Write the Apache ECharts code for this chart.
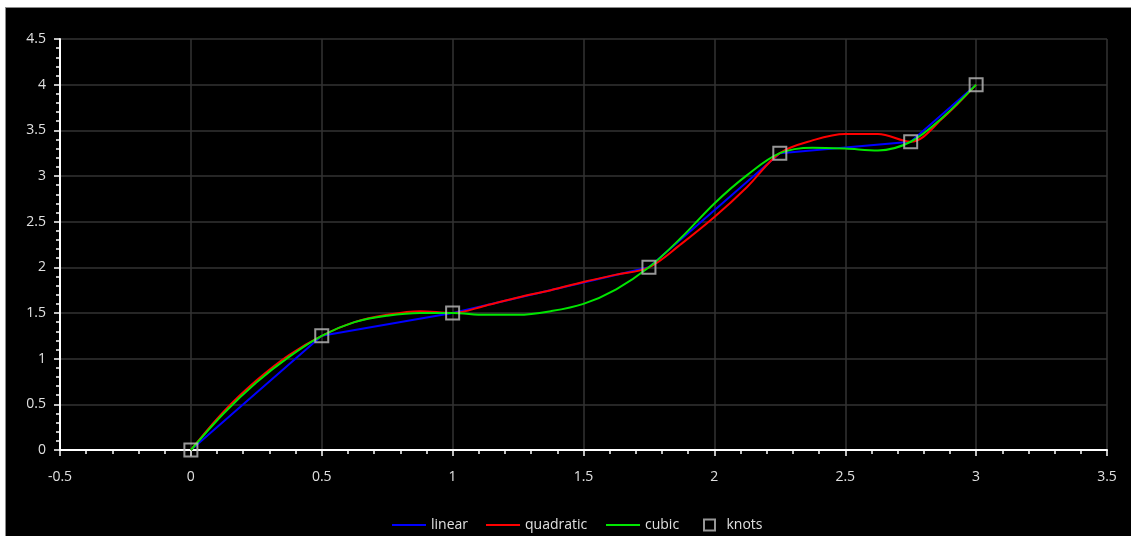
<!DOCTYPE html>
<html>
<head>
<meta charset="utf-8">
<script src="https://cdn.jsdelivr.net/npm/echarts@6/dist/echarts.min.js"></script>
<style>
  html, body { margin: 0; padding: 0; background: #ffffff; width: 1131px; height: 536px; overflow: hidden; }
  #frame { position: absolute; left: 5px; top: 7px; width: 1126px; height: 529px; box-sizing: border-box;
           border-left: 1px solid #8a8a8a; border-top: 1px solid #8a8a8a; background: #000; }
  #chart { width: 1125px; height: 528px; }
</style>
</head>
<body>
<div id="frame"><div id="chart"></div></div>
<script>
// knots (also the linear interpolation vertices)
const knotX = [0, 0.5, 1, 1.75, 2.25, 2.75, 3];
const knotY = [0, 1.25, 1.5, 2, 3.25, 3.375, 4];
const sampleX = [0, 0.125, 0.25, 0.375, 0.5, 0.625, 0.75, 0.875, 1, 1.125, 1.25, 1.375, 1.5,
                 1.625, 1.75, 1.875, 2, 2.125, 2.25, 2.375, 2.5, 2.625, 2.75, 2.875, 3];
const quadraticY = [0, 0.42, 0.76, 1.04, 1.25, 1.40, 1.48, 1.52, 1.50, 1.58, 1.67, 1.75, 1.84,
                    1.92, 2.0, 2.26, 2.55, 2.88, 3.25, 3.39, 3.46, 3.46, 3.375, 3.64, 4.0];
const cubicY = [0, 0.40, 0.74, 1.02, 1.25, 1.40, 1.47, 1.50, 1.50, 1.48, 1.48, 1.52, 1.60,
                1.76, 2.0, 2.33, 2.70, 3.01, 3.25, 3.31, 3.30, 3.28, 3.375, 3.65, 4.0];
const seriesNames = ['linear', 'quadratic', 'cubic', 'knots'];
const seriesColors = ['#0000ff', '#ff0000', '#00e600', '#bdbdbd'];

const pair = (xs, ys) => xs.map((x, i) => [x, ys[i]]);
const FONT = 'Open Sans';
const axisCommon = {
  type: 'value',
  interval: 0.5,
  axisLine: { show: true, onZero: false, lineStyle: { color: '#ffffff', width: 2 } },
  axisTick: { show: true, inside: false, length: 6, lineStyle: { color: '#ffffff', width: 1.5 } },
  minorTick: { show: true, splitNumber: 5, length: 4, lineStyle: { color: '#ffffff', width: 1.5 } },
  splitLine: { show: true, lineStyle: { color: '#333333', width: 1.5 } },
  minorSplitLine: { show: false },
  axisLabel: { color: '#e0e0e0', fontSize: 14, fontFamily: FONT, showMinLabel: true, showMaxLabel: true }
};

const legendLefts = [386, 480, 600, 697];
const legendIconW = [34, 34, 34, 24];
const LINE_ICON = 'path://M0,0 L34,0 L34,2 L0,2 Z';
const SQUARE_ICON = 'path://M0,0 L10,0 L10,10 L0,10 Z';
const legends = seriesNames.map((n, i) => ({
  left: legendLefts[i], top: 510, padding: 0,
  itemWidth: legendIconW[i], itemHeight: 11, itemGap: 0, symbolKeepAspect: true,
  data: [{ name: n, icon: i < 3 ? LINE_ICON : SQUARE_ICON }],
  textStyle: { color: '#e0e0e0', fontSize: 14, fontFamily: FONT }
}));

const chart = echarts.init(document.getElementById('chart'), null, { renderer: 'canvas' });
chart.setOption({
  backgroundColor: '#000000',
  animation: false,
  grid: { left: 54, right: 24, top: 31, bottom: 86, containLabel: false },
  xAxis: Object.assign({}, axisCommon, { min: -0.5, max: 3.5,
    axisLabel: Object.assign({}, axisCommon.axisLabel, { margin: 20 }) }),
  yAxis: Object.assign({}, axisCommon, { min: 0, max: 4.5,
    axisLabel: Object.assign({}, axisCommon.axisLabel, { margin: 14 }) }),
  legend: legends,
  series: [
    { name: seriesNames[0], type: 'line', data: pair(knotX, knotY), symbol: 'none',
      lineStyle: { color: seriesColors[0], width: 2 }, itemStyle: { color: seriesColors[0] }, z: 2 },
    { name: seriesNames[1], type: 'line', data: pair(sampleX, quadraticY), symbol: 'none', smooth: 0.35,
      lineStyle: { color: seriesColors[1], width: 2 }, itemStyle: { color: seriesColors[1] }, z: 3 },
    { name: seriesNames[2], type: 'line', data: pair(sampleX, cubicY), symbol: 'none', smooth: 0.35,
      lineStyle: { color: seriesColors[2], width: 2 }, itemStyle: { color: seriesColors[2] }, z: 4 },
    { name: seriesNames[3], type: 'scatter', data: pair(knotX, knotY), symbol: 'rect', symbolSize: 13,
      itemStyle: { color: 'rgba(0,0,0,0)', borderColor: seriesColors[3], borderWidth: 2 }, z: 5 }
  ]
});
</script>
</body>
</html>
